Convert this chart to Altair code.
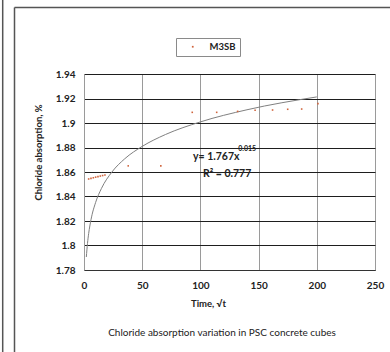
import altair as alt
import pandas as pd

# ---- data ----
time = [4, 6, 8, 10, 12, 14, 16, 18, 38, 66, 93, 114, 132, 147, 162, 175, 187, 201]
absorption = [1.8543, 1.8548, 1.8553, 1.8558, 1.8562, 1.8567, 1.8571, 1.8576,
              1.865, 1.865, 1.9087, 1.9087, 1.9095, 1.9104, 1.9106, 1.9112, 1.9114, 1.9158]
series = ["M3SB"] * len(time)

# trend line as drawn in the reference
trend_t = [2, 3, 4, 6, 10, 15, 24, 35, 50, 70, 100, 140, 200]
trend_v = [1.7906, 1.8017, 1.8097, 1.8210, 1.8352, 1.8466, 1.8600, 1.8708,
           1.8809, 1.8906, 1.9009, 1.9108, 1.9213]

x_ticks = [0, 50, 100, 150, 200, 250]
y_ticks = [1.78, 1.80, 1.82, 1.84, 1.86, 1.88, 1.90, 1.92, 1.94]

eq_text = ["y= 1.767x", "0.015", "R² = 0.777"]
eq_t = [93.6, 132.5, 102.2]
eq_v = [1.8698, 1.8768, 1.8560]
eq_size = [10.5, 7, 10.5]

FONT = "Lato"

pts = pd.DataFrame({"t": time, "v": absorption, "s": series})
trend = pd.DataFrame({"t": trend_t, "v": trend_v})
eq = pd.DataFrame({"text": eq_text, "t": eq_t, "v": eq_v, "size": eq_size})

xs = alt.Scale(domain=[0, 250], nice=False)
ys = alt.Scale(domain=[1.78, 1.94], nice=False, zero=False)

x_axis = alt.Axis(values=x_ticks, tickCount=len(x_ticks), grid=True, gridColor="#9a9a9a", gridWidth=1,
                  domainColor="#333333", domainWidth=1.2, ticks=False,
                  labelOverlap=False, labelFlush=False,
                  labelFont=FONT, labelFontSize=10, labelFontWeight="bold",
                  labelColor="#222222", labelPadding=10,
                  title="Time, √t", titleFont=FONT, titleFontSize=9.5,
                  titleFontWeight="bold", titleColor="#222222",
                  titleX=124, titleY=33, titleBaseline="middle", titleAnchor="start",
                  titleAlign="center")
y_axis = alt.Axis(values=y_ticks, tickCount=len(y_ticks), grid=True, gridColor="#1e1e1e", gridWidth=1.2,
                  domainColor="#9a9a9a", domainWidth=1, ticks=False,
                  labelOverlap=False, labelFlush=False,
                  labelFont=FONT, labelFontSize=10, labelFontWeight="bold",
                  labelColor="#222222", labelPadding=9, format=".3~g",
                  title="Chloride absorption, %", titleFont=FONT, titleFontSize=9.5,
                  titleFontWeight="bold", titleColor="#222222",
                  titleX=-46, titleY=78, titleAngle=-90, titleBaseline="middle",
                  titleAlign="center")

points = alt.Chart(pts).mark_point(shape="square", filled=True, size=2.5, opacity=1).encode(
    x=alt.X("t:Q", scale=xs, axis=x_axis),
    y=alt.Y("v:Q", scale=ys, axis=y_axis),
    color=alt.Color("s:N", scale=alt.Scale(range=["#d0643c"]),
                    legend=alt.Legend(title=None, orient="none", legendX=92, legendY=-36,
                                      strokeColor="#8a8a8a", padding=4, fillColor="white",
                                      symbolSize=3, symbolType="square",
                                      labelFont=FONT, labelFontSize=9.5,
                                      labelFontWeight="bold", labelColor="#222222",
                                      labelOffset=12, symbolOffset=8)),
)

line = alt.Chart(trend).mark_line(color="#808080", strokeWidth=1,
                                  interpolate="monotone").encode(
    x=alt.X("t:Q", scale=xs, axis=x_axis), y=alt.Y("v:Q", scale=ys, axis=y_axis))

eqs = alt.Chart(eq).mark_text(align="left", baseline="alphabetic", font=FONT,
                              fontWeight="bold", color="#222222").encode(
    x=alt.X("t:Q", scale=xs, axis=x_axis), y=alt.Y("v:Q", scale=ys, axis=y_axis),
    text="text:N", size=alt.Size("size:Q", scale=None, legend=None))

caption = alt.Chart(pd.DataFrame({"c": ["Chloride absorption variation in PSC concrete cubes"]})).mark_text(
    font=FONT, fontSize=10, color="#222222", align="center", baseline="middle").encode(
    text="c:N", x=alt.value(138), y=alt.value(259))

frame_left = alt.Chart(pd.DataFrame({"k": [0]})).mark_rule(color="#555555", strokeWidth=1.5).encode(
    x=alt.value(-69.5), y=alt.value(-66.5), y2=alt.value(280))
frame_top = alt.Chart(pd.DataFrame({"k": [0]})).mark_rule(color="#555555", strokeWidth=1.5).encode(
    x=alt.value(-69.5), x2=alt.value(310), y=alt.value(-66.5))
strip = alt.Chart(pd.DataFrame({"k": [0]})).mark_rule(color="#555555", strokeWidth=1.5).encode(
    x=alt.value(-81.3), y=alt.value(-76), y2=alt.value(280))

chart = alt.layer(frame_left, frame_top, strip, line, points, eqs, caption).properties(
    width=291, height=196,
    autosize=alt.AutoSizeParams(type="none"),
    padding={"left": 84, "top": 74, "right": 15, "bottom": 82},
    background="white",
).configure_view(stroke=None)

chart.save("out.html", embed_options={"renderer": "svg", "actions": False})
